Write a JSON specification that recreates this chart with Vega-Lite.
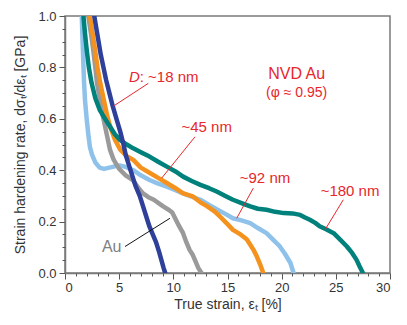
{
  "$schema": "https://vega.github.io/schema/vega-lite/v6.json",
  "width": 325,
  "height": 257,
  "autosize": {"type": "none"},
  "padding": {"left": 65, "top": 16, "right": 17, "bottom": 52},
  "config": {
    "font": "Liberation Sans",
    "view": {"stroke": "#7a7a7a", "strokeWidth": 1.5},
    "axis": {
      "domainColor": "#7a7a7a", "domainWidth": 1.5, "tickColor": "#555555", "tickWidth": 1,
      "labelColor": "#333333", "labelFontSize": 13, "titleColor": "#333333",
      "titleFontSize": 14, "titleFontWeight": "normal", "grid": false
    }
  },
  "datasets": {
    "curves": [
      {"s": "a92", "x": 1.55, "y": 1.0}, {"s": "a92", "x": 1.6, "y": 0.93}, {"s": "a92", "x": 1.65, "y": 0.87}, {"s": "a92", "x": 1.75, "y": 0.75}, {"s": "a92", "x": 1.85, "y": 0.67}, {"s": "a92", "x": 2.0, "y": 0.6}, {"s": "a92", "x": 2.15, "y": 0.54}, {"s": "a92", "x": 2.3, "y": 0.49}, {"s": "a92", "x": 2.5, "y": 0.46}, {"s": "a92", "x": 2.8, "y": 0.43}, {"s": "a92", "x": 3.2, "y": 0.41}, {"s": "a92", "x": 3.6, "y": 0.405}, {"s": "a92", "x": 4.1, "y": 0.41}, {"s": "a92", "x": 4.6, "y": 0.415}, {"s": "a92", "x": 5.1, "y": 0.418}, {"s": "a92", "x": 5.6, "y": 0.413}, {"s": "a92", "x": 6.3, "y": 0.4}, {"s": "a92", "x": 7.0, "y": 0.38}, {"s": "a92", "x": 7.8, "y": 0.362}, {"s": "a92", "x": 8.6, "y": 0.348}, {"s": "a92", "x": 9.4, "y": 0.336}, {"s": "a92", "x": 10.2, "y": 0.322}, {"s": "a92", "x": 10.9, "y": 0.31}, {"s": "a92", "x": 11.7, "y": 0.297}, {"s": "a92", "x": 12.5, "y": 0.285}, {"s": "a92", "x": 13.3, "y": 0.265}, {"s": "a92", "x": 14.0, "y": 0.248}, {"s": "a92", "x": 14.8, "y": 0.23}, {"s": "a92", "x": 15.5, "y": 0.213}, {"s": "a92", "x": 16.3, "y": 0.205}, {"s": "a92", "x": 17.1, "y": 0.194}, {"s": "a92", "x": 17.8, "y": 0.175}, {"s": "a92", "x": 18.6, "y": 0.155}, {"s": "a92", "x": 19.2, "y": 0.13}, {"s": "a92", "x": 19.8, "y": 0.105}, {"s": "a92", "x": 20.3, "y": 0.075}, {"s": "a92", "x": 20.8, "y": 0.04}, {"s": "a92", "x": 21.1, "y": 0.0},
      {"s": "bAu", "x": 2.15, "y": 1.0}, {"s": "bAu", "x": 2.4, "y": 0.93}, {"s": "bAu", "x": 2.6, "y": 0.87}, {"s": "bAu", "x": 2.8, "y": 0.8}, {"s": "bAu", "x": 2.95, "y": 0.74}, {"s": "bAu", "x": 3.2, "y": 0.68}, {"s": "bAu", "x": 3.5, "y": 0.61}, {"s": "bAu", "x": 3.8, "y": 0.55}, {"s": "bAu", "x": 4.15, "y": 0.48}, {"s": "bAu", "x": 4.5, "y": 0.44}, {"s": "bAu", "x": 5.0, "y": 0.405}, {"s": "bAu", "x": 5.6, "y": 0.38}, {"s": "bAu", "x": 6.3, "y": 0.36}, {"s": "bAu", "x": 6.8, "y": 0.33}, {"s": "bAu", "x": 7.2, "y": 0.31}, {"s": "bAu", "x": 7.7, "y": 0.295}, {"s": "bAu", "x": 8.2, "y": 0.285}, {"s": "bAu", "x": 8.7, "y": 0.27}, {"s": "bAu", "x": 9.1, "y": 0.258}, {"s": "bAu", "x": 9.6, "y": 0.245}, {"s": "bAu", "x": 9.9, "y": 0.235}, {"s": "bAu", "x": 10.2, "y": 0.21}, {"s": "bAu", "x": 10.5, "y": 0.185}, {"s": "bAu", "x": 10.9, "y": 0.155}, {"s": "bAu", "x": 11.2, "y": 0.12}, {"s": "bAu", "x": 11.5, "y": 0.09}, {"s": "bAu", "x": 11.8, "y": 0.07}, {"s": "bAu", "x": 12.0, "y": 0.05}, {"s": "bAu", "x": 12.3, "y": 0.02}, {"s": "bAu", "x": 12.6, "y": 0.0},
      {"s": "c45", "x": 2.3, "y": 1.0}, {"s": "c45", "x": 2.55, "y": 0.93}, {"s": "c45", "x": 2.77, "y": 0.87}, {"s": "c45", "x": 3.0, "y": 0.8}, {"s": "c45", "x": 3.25, "y": 0.74}, {"s": "c45", "x": 3.6, "y": 0.67}, {"s": "c45", "x": 3.9, "y": 0.61}, {"s": "c45", "x": 4.2, "y": 0.565}, {"s": "c45", "x": 4.6, "y": 0.52}, {"s": "c45", "x": 5.1, "y": 0.48}, {"s": "c45", "x": 5.7, "y": 0.455}, {"s": "c45", "x": 6.3, "y": 0.44}, {"s": "c45", "x": 7.0, "y": 0.41}, {"s": "c45", "x": 7.8, "y": 0.39}, {"s": "c45", "x": 8.6, "y": 0.37}, {"s": "c45", "x": 9.4, "y": 0.35}, {"s": "c45", "x": 10.2, "y": 0.33}, {"s": "c45", "x": 10.9, "y": 0.31}, {"s": "c45", "x": 11.8, "y": 0.298}, {"s": "c45", "x": 12.5, "y": 0.275}, {"s": "c45", "x": 13.1, "y": 0.26}, {"s": "c45", "x": 13.8, "y": 0.24}, {"s": "c45", "x": 14.3, "y": 0.22}, {"s": "c45", "x": 15.0, "y": 0.19}, {"s": "c45", "x": 15.5, "y": 0.168}, {"s": "c45", "x": 16.2, "y": 0.15}, {"s": "c45", "x": 16.8, "y": 0.13}, {"s": "c45", "x": 17.1, "y": 0.11}, {"s": "c45", "x": 17.4, "y": 0.09}, {"s": "c45", "x": 17.7, "y": 0.065}, {"s": "c45", "x": 18.0, "y": 0.035}, {"s": "c45", "x": 18.3, "y": 0.0},
      {"s": "d180", "x": 1.7, "y": 1.0}, {"s": "d180", "x": 1.85, "y": 0.93}, {"s": "d180", "x": 2.0, "y": 0.87}, {"s": "d180", "x": 2.2, "y": 0.8}, {"s": "d180", "x": 2.45, "y": 0.74}, {"s": "d180", "x": 2.8, "y": 0.68}, {"s": "d180", "x": 3.2, "y": 0.635}, {"s": "d180", "x": 3.7, "y": 0.6}, {"s": "d180", "x": 4.15, "y": 0.57}, {"s": "d180", "x": 4.6, "y": 0.54}, {"s": "d180", "x": 5.1, "y": 0.517}, {"s": "d180", "x": 5.7, "y": 0.5}, {"s": "d180", "x": 6.3, "y": 0.485}, {"s": "d180", "x": 7.0, "y": 0.47}, {"s": "d180", "x": 7.8, "y": 0.453}, {"s": "d180", "x": 8.6, "y": 0.433}, {"s": "d180", "x": 9.4, "y": 0.414}, {"s": "d180", "x": 10.2, "y": 0.395}, {"s": "d180", "x": 10.9, "y": 0.375}, {"s": "d180", "x": 11.7, "y": 0.358}, {"s": "d180", "x": 12.5, "y": 0.343}, {"s": "d180", "x": 13.3, "y": 0.33}, {"s": "d180", "x": 14.0, "y": 0.317}, {"s": "d180", "x": 14.8, "y": 0.3}, {"s": "d180", "x": 15.5, "y": 0.285}, {"s": "d180", "x": 16.3, "y": 0.272}, {"s": "d180", "x": 17.1, "y": 0.259}, {"s": "d180", "x": 17.8, "y": 0.25}, {"s": "d180", "x": 18.6, "y": 0.246}, {"s": "d180", "x": 19.4, "y": 0.238}, {"s": "d180", "x": 20.2, "y": 0.233}, {"s": "d180", "x": 21.0, "y": 0.232}, {"s": "d180", "x": 21.7, "y": 0.226}, {"s": "d180", "x": 22.2, "y": 0.215}, {"s": "d180", "x": 22.6, "y": 0.207}, {"s": "d180", "x": 23.1, "y": 0.195}, {"s": "d180", "x": 23.5, "y": 0.182}, {"s": "d180", "x": 24.1, "y": 0.17}, {"s": "d180", "x": 24.8, "y": 0.155}, {"s": "d180", "x": 25.4, "y": 0.13}, {"s": "d180", "x": 26.0, "y": 0.104}, {"s": "d180", "x": 26.5, "y": 0.078}, {"s": "d180", "x": 26.9, "y": 0.052}, {"s": "d180", "x": 27.2, "y": 0.025}, {"s": "d180", "x": 27.5, "y": 0.0},
      {"s": "e18", "x": 2.7, "y": 1.0}, {"s": "e18", "x": 2.9, "y": 0.95}, {"s": "e18", "x": 3.1, "y": 0.9}, {"s": "e18", "x": 3.3, "y": 0.85}, {"s": "e18", "x": 3.55, "y": 0.8}, {"s": "e18", "x": 3.8, "y": 0.75}, {"s": "e18", "x": 4.1, "y": 0.7}, {"s": "e18", "x": 4.4, "y": 0.65}, {"s": "e18", "x": 4.75, "y": 0.6}, {"s": "e18", "x": 5.1, "y": 0.55}, {"s": "e18", "x": 5.4, "y": 0.5}, {"s": "e18", "x": 5.6, "y": 0.46}, {"s": "e18", "x": 5.9, "y": 0.42}, {"s": "e18", "x": 6.2, "y": 0.38}, {"s": "e18", "x": 6.5, "y": 0.34}, {"s": "e18", "x": 6.9, "y": 0.3}, {"s": "e18", "x": 7.2, "y": 0.26}, {"s": "e18", "x": 7.5, "y": 0.22}, {"s": "e18", "x": 7.8, "y": 0.18}, {"s": "e18", "x": 8.1, "y": 0.15}, {"s": "e18", "x": 8.4, "y": 0.12}, {"s": "e18", "x": 8.7, "y": 0.08}, {"s": "e18", "x": 8.9, "y": 0.05}, {"s": "e18", "x": 9.1, "y": 0.02}, {"s": "e18", "x": 9.25, "y": 0.0}
    ],
    "redLeaders": [
      {"x": 7.69, "y": 0.738, "x2": 4.46, "y2": 0.649},
      {"x": 12.0, "y": 0.53, "x2": 8.92, "y2": 0.369},
      {"x": 17.38, "y": 0.33, "x2": 15.85, "y2": 0.213},
      {"x": 25.69, "y": 0.285, "x2": 24.0, "y2": 0.168}
    ],
    "blackLeaders": [
      {"x": 5.54, "y": 0.103, "x2": 9.69, "y2": 0.213}
    ],
    "redLabels": [
      {"t": "~45 nm", "x": 13.08, "y": 0.569},
      {"t": "~92 nm", "x": 18.46, "y": 0.369},
      {"t": "~180 nm", "x": 26.31, "y": 0.321}
    ],
    "titleLabels": [
      {"t": "NVD Au", "x": 21.38, "y": 0.776, "f": 16},
      {"t": "(φ ≈ 0.95)", "x": 21.38, "y": 0.699, "f": 14}
    ],
    "dLabel": [
      {"t": "D", "rest": ": ~18 nm", "x": 6.9, "y": 0.762}
    ],
    "auLabel": [
      {"t": "Au", "x": 4.31, "y": 0.103}
    ]
  },
  "layer": [
    {
      "data": {"name": "curves"},
      "mark": {"type": "line", "strokeWidth": 4.5, "clip": true, "strokeCap": "round", "strokeJoin": "round"},
      "encoding": {
        "x": {"field": "x", "type": "quantitative", "scale": {"domain": [0, 30], "nice": false},
          "axis": {"values": [0, 5, 10, 15, 20, 25, 30], "tickSize": 6, "labelPadding": 2, "title": "True strain, εₜ  [%]", "titlePadding": 3, "orient": "bottom"}},
        "y": {"field": "y", "type": "quantitative", "scale": {"domain": [0, 1], "nice": false},
          "axis": {"values": [0, 0.2, 0.4, 0.6, 0.8, 1.0], "format": ".1f", "tickSize": 6, "labelPadding": 3, "title": "Strain hardening rate, dσₜ/dεₜ  [GPa]", "titlePadding": 10, "orient": "left"}},
        "color": {"field": "s", "type": "nominal", "legend": null,
          "scale": {"domain": ["a92", "bAu", "c45", "d180", "e18"], "range": ["#8fc2ea", "#9a9a9a", "#f5921e", "#00817b", "#2e409a"]}}
      }
    },
    {
      "data": {"name": "curves"},
      "mark": {"type": "point", "opacity": 0},
      "encoding": {
        "x": {"field": "x", "type": "quantitative", "scale": {"domain": [0, 30], "nice": false},
          "axis": {"values": [1, 2, 3, 4, 6, 7, 8, 9, 11, 12, 13, 14, 16, 17, 18, 19, 21, 22, 23, 24, 26, 27, 28, 29], "labels": false, "tickSize": 3, "domain": false, "title": null, "orient": "bottom"}},
        "y": {"field": "y", "type": "quantitative", "scale": {"domain": [0, 1], "nice": false},
          "axis": {"values": [0.05, 0.1, 0.15, 0.25, 0.3, 0.35, 0.45, 0.5, 0.55, 0.65, 0.7, 0.75, 0.85, 0.9, 0.95], "labels": false, "tickSize": 3, "domain": false, "title": null, "orient": "left"}}
      }
    },
    {
      "data": {"name": "redLeaders"},
      "mark": {"type": "rule", "strokeWidth": 1, "color": "#e8262b"},
      "encoding": {
        "x": {"field": "x", "type": "quantitative", "axis": null},
        "y": {"field": "y", "type": "quantitative", "axis": null},
        "x2": {"field": "x2"},
        "y2": {"field": "y2"}
      }
    },
    {
      "data": {"name": "blackLeaders"},
      "mark": {"type": "rule", "strokeWidth": 1, "color": "#111111"},
      "encoding": {
        "x": {"field": "x", "type": "quantitative", "axis": null},
        "y": {"field": "y", "type": "quantitative", "axis": null},
        "x2": {"field": "x2"},
        "y2": {"field": "y2"}
      }
    },
    {
      "data": {"name": "redLabels"},
      "mark": {"type": "text", "baseline": "middle", "align": "center", "fontSize": 15, "color": "#e8262b"},
      "encoding": {
        "x": {"field": "x", "type": "quantitative", "axis": null},
        "y": {"field": "y", "type": "quantitative", "axis": null},
        "text": {"field": "t"}
      }
    },
    {
      "data": {"name": "titleLabels"},
      "mark": {"type": "text", "baseline": "middle", "align": "center", "color": "#e8262b"},
      "encoding": {
        "x": {"field": "x", "type": "quantitative", "axis": null},
        "y": {"field": "y", "type": "quantitative", "axis": null},
        "text": {"field": "t"},
        "size": {"field": "f", "type": "quantitative", "scale": null}
      }
    },
    {
      "data": {"name": "dLabel"},
      "mark": {"type": "text", "baseline": "middle", "align": "right", "fontStyle": "italic", "fontSize": 15, "color": "#e8262b"},
      "encoding": {
        "x": {"field": "x", "type": "quantitative", "axis": null},
        "y": {"field": "y", "type": "quantitative", "axis": null},
        "text": {"field": "t"}
      }
    },
    {
      "data": {"name": "dLabel"},
      "mark": {"type": "text", "baseline": "middle", "align": "left", "fontSize": 15, "color": "#e8262b"},
      "encoding": {
        "x": {"field": "x", "type": "quantitative", "axis": null},
        "y": {"field": "y", "type": "quantitative", "axis": null},
        "text": {"field": "rest"}
      }
    },
    {
      "data": {"name": "auLabel"},
      "mark": {"type": "text", "baseline": "middle", "align": "center", "fontSize": 16, "color": "#808080"},
      "encoding": {
        "x": {"field": "x", "type": "quantitative", "axis": null},
        "y": {"field": "y", "type": "quantitative", "axis": null},
        "text": {"field": "t"}
      }
    }
  ],
  "resolve": {"axis": {"x": "independent", "y": "independent"}}
}
